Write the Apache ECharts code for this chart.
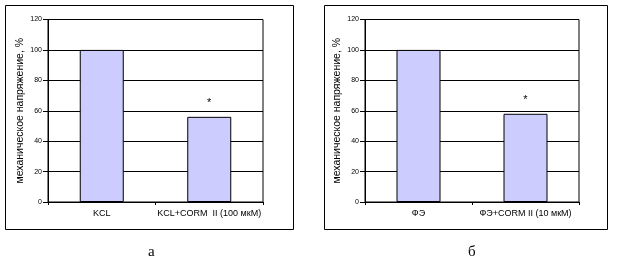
<!DOCTYPE html>
<html><head><meta charset="utf-8">
<script src="https://cdn.jsdelivr.net/npm/echarts@6/dist/echarts.min.js"></script>
<style>html,body{margin:0;padding:0;background:#fff}#c{width:617px;height:265px}</style>
</head><body><div id="c"></div>
<script>
const categoriesA = ['KCL', 'KCL+CORM  II (100 мкМ)'];
const valuesA = [100, 56];
const categoriesB = ['ФЭ', 'ФЭ+CORM II (10 мкМ)'];
const valuesB = [100, 58];
const markA = ['', '*'];
const markB = ['', '*'];
const yName = 'механическое напряжение, %';
const yMin = 0, yMax = 120, yInterval = 20;
const captions = ['а', 'б'];

const font = 'Liberation Sans, Arial, sans-serif';
const chart = echarts.init(document.getElementById('c'), null, {renderer: 'canvas'});

function yAxis(idx) {
  return {
    type: 'value', gridIndex: idx, min: yMin, max: yMax, interval: yInterval,
    name: yName, nameLocation: 'middle', nameRotate: 90, nameGap: 22,
    nameTextStyle: {color: '#000', fontSize: 10.5, fontFamily: font},
    axisLine: {show: true, lineStyle: {color: '#000', width: 1}},
    axisTick: {show: true, length: 5, lineStyle: {color: '#000'}},
    axisLabel: {color: '#000', fontSize: 7, fontFamily: font, margin: 6},
    splitLine: {show: true, lineStyle: {color: '#000', width: 1}}
  };
}
function xAxis(idx, cats) {
  return {
    type: 'category', gridIndex: idx, data: cats,
    axisLine: {show: true, lineStyle: {color: '#000', width: 1}},
    axisTick: {show: true, length: 3, lineStyle: {color: '#000'}},
    axisLabel: {color: '#000', fontSize: 9, fontFamily: font, margin: 7, interval: 0},
    splitLine: {show: false}
  };
}
function barSeries(idx, vals, marks) {
  return {
    type: 'bar', xAxisIndex: idx, yAxisIndex: idx, barWidth: 44,
    itemStyle: {color: '#CCCCFF', borderColor: '#000', borderWidth: 1},
    data: vals.map((v, i) => ({
      value: v,
      label: {show: marks[i] !== '', formatter: marks[i], position: 'top', distance: 8,
              color: '#000', fontSize: 11, fontFamily: font}
    })),
    animation: false
  };
}

chart.setOption({
  animation: false,
  grid: [
    {left: 48, right: 354, top: 19.5, bottom: 63, show: true, borderColor: '#000', borderWidth: 1},
    {left: 365, right: 38, top: 19.5, bottom: 63, show: true, borderColor: '#000', borderWidth: 1}
  ],
  xAxis: [xAxis(0, categoriesA), xAxis(1, categoriesB)],
  yAxis: [yAxis(0), yAxis(1)],
  series: [barSeries(0, valuesA, markA), barSeries(1, valuesB, markB)],
  graphic: [
    {type: 'rect', shape: {x: 5.5, y: 5.5, width: 288, height: 224}, style: {fill: 'none', stroke: '#000', lineWidth: 1}, silent: true},
    {type: 'rect', shape: {x: 324.5, y: 5.5, width: 283, height: 224}, style: {fill: 'none', stroke: '#000', lineWidth: 1}, silent: true},
    {type: 'text', left: 148, top: 245, style: {text: captions[0], fill: '#000', font: '15px "Liberation Serif", "Times New Roman", serif'}},
    {type: 'text', left: 468, top: 245, style: {text: captions[1], fill: '#000', font: '15px "Liberation Serif", "Times New Roman", serif'}}
  ]
});
</script></body></html>
